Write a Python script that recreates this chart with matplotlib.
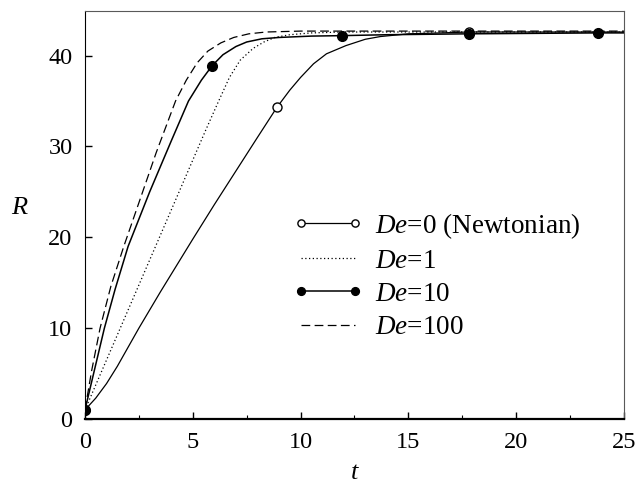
import numpy as np
import matplotlib.pyplot as plt

plt.rcParams['font.family'] = 'Liberation Serif'
plt.rcParams['mathtext.fontset'] = 'custom'
plt.rcParams['mathtext.rm'] = 'Liberation Serif'
plt.rcParams['mathtext.it'] = 'Liberation Serif:italic'

# De = 0 (Newtonian)
t0 = [0, 0.5, 1.0, 1.5, 2.0, 2.5, 3.5, 5.0, 6.0, 7.0, 8.0, 8.9, 9.5, 10.0,
      10.6, 11.2, 12.1, 13.0, 13.7, 15.0, 16.5, 17.8, 20.0, 25.0]
R0 = [1.0, 2.3, 3.9, 5.8, 7.9, 10.0, 14.0, 19.8, 23.6, 27.3, 31.0, 34.3, 36.2, 37.6,
      39.1, 40.2, 41.1, 41.8, 42.1, 42.4, 42.5, 42.6, 42.6, 42.6]
mark0 = [0, 11, 21]

# De = 1
t1 = [0, 1.0, 2.0, 3.0, 4.0, 5.0, 5.6, 6.2, 6.7, 7.2, 7.8, 8.3, 8.8, 9.5, 10.5, 12.0, 25.0]
R1 = [1.0, 6.5, 12.0, 17.5, 23.0, 28.5, 31.8, 35.0, 37.6, 39.5, 40.8, 41.5, 42.0, 42.3, 42.5, 42.6, 42.6]

# De = 10
t10 = [0, 0.5, 0.9, 1.4, 2.0, 3.0, 4.0, 4.8, 5.4, 5.9, 6.4, 7.0, 7.5, 8.2, 9.0,
       10.5, 11.9, 14.0, 17.8, 23.8, 25.0]
R10 = [1.0, 6.0, 10.0, 14.3, 19.0, 25.0, 30.6, 35.0, 37.3, 38.9, 40.1, 41.0, 41.5, 41.85, 42.0,
       42.15, 42.2, 42.3, 42.4, 42.5, 42.5]
mark10 = [0, 9, 16, 18, 19]

# De = 100
t100 = [0, 0.3, 0.7, 1.2, 1.8, 2.5, 3.3, 4.2, 4.7, 5.2, 5.7, 6.3, 6.9, 7.6, 8.4, 10.0, 25.0]
R100 = [1.0, 5.2, 10.0, 14.6, 19.0, 23.8, 29.3, 35.0, 37.3, 39.2, 40.5, 41.4, 42.0, 42.4, 42.6, 42.7, 42.7]

fig = plt.figure(figsize=(6.37, 4.83), dpi=100)
ax = fig.add_axes([0.1334, 0.1325, 0.8462, 0.8445])

ax.plot(t0, R0, '-', color='k', lw=0.9, marker='o', ms=6.5, mfc='white', mec='k',
        mew=1.0, markevery=mark0, label=r'$De$=0 (Newtonian)')
ax.plot(t1, R1, color='k', lw=0.9, ls=(0, (1, 2)), label=r'$De$=1')
ax.plot(t10, R10, '-', color='k', lw=1.1, marker='o', ms=7, mfc='k', mec='k',
        markevery=mark10, label=r'$De$=10')
ax.plot(t100, R100, color='k', lw=0.9, ls=(0, (7, 3.5)), label=r'$De$=100')

ax.set_xlim(0, 25)
ax.set_ylim(0, 44.9)
ax.set_xticks([0, 5, 10, 15, 20, 25])
ax.set_xticks([2.5, 7.5, 12.5, 17.5, 22.5], minor=True)
ax.set_yticks([0, 10, 20, 30, 40])
ax.tick_params(axis='both', which='major', direction='in', length=5, width=1,
               labelsize=17.5, pad=9)
ax.tick_params(axis='x', which='minor', direction='in', length=3, width=0.8)

for side in ['top', 'right', 'left']:
    ax.spines[side].set_linewidth(0.8)
ax.spines['top'].set_color('0.35')
ax.spines['right'].set_color('0.35')
ax.spines['bottom'].set_linewidth(1.6)

ax.set_xlabel(r'$t$', fontsize=19, labelpad=7)
ax.set_ylabel(r'$R$', fontsize=19, rotation=0, va='center', ha='center')
ax.yaxis.set_label_coords(-0.12, 0.517)

ax.legend(loc='upper left', bbox_to_anchor=(0.385, 0.51), frameon=False,
          fontsize=19.5, numpoints=2, markerscale=0.8, handlelength=2.6,
          handletextpad=0.45, labelspacing=0.3, borderpad=0, borderaxespad=0)

fig.savefig('out.png', dpi=100)
